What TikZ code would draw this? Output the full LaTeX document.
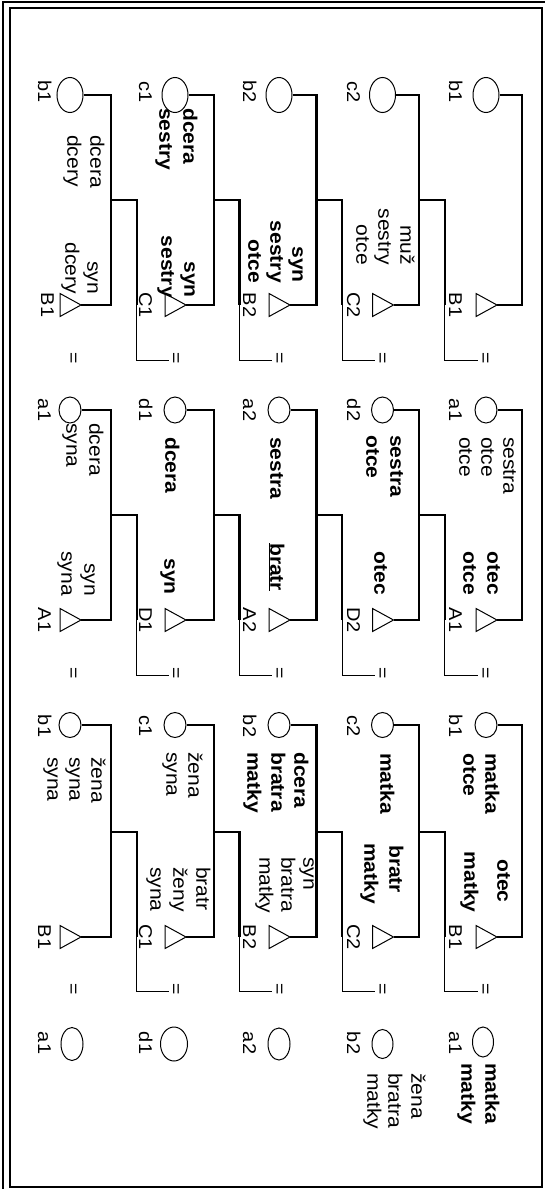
\documentclass[tikz,border=0pt]{standalone}
\usepackage{fontspec}
\setmainfont{Liberation Sans}[FakeStretch=1.08]
\usetikzlibrary{shapes.geometric,calc}
\begin{document}
\begin{tikzpicture}[x=1pt,y=-1pt,
  pers/.style={draw,line width=1pt,ellipse,inner sep=0pt},
  trishape/.style={draw,line width=1pt},
  couple/.style={line width=2.3pt},
  thinl/.style={line width=1pt},
  rel/.style={rotate=-90,inner sep=0pt,font=\fontsize{19.5}{22}\selectfont},
  relb/.style={rotate=-90,inner sep=0pt,font=\fontsize{19.5}{22}\selectfont\bfseries},
  lab/.style={rotate=-90,inner sep=0pt,anchor=base,font=\fontsize{18.5}{20}\selectfont},
  eqs/.style={rotate=-90,inner sep=0pt,font=\fontsize{18}{20}\selectfont},
]
\useasboundingbox (0,0) rectangle (545,1189);
% frame
\draw[line width=1.6pt] (10,8) rectangle (542,1187);
\draw[line width=2pt] (3,1189) -- (3,2) -- (545,2);

% people, couples, equal signs
\foreach \col/\cx/\kx/\ex in {1/70/111/72,2/175/213.7/174.5,3/279/316.4/278,4/382.5/419.1/381,5/486/521.8/484}{
  \foreach \blk/\cy/\ty/\jy/\ey/\ww/\hh in {1/95/305/200/358/26/35,2/410/620/515/673/22/26,3/725/937/832/989/22/25}{
    \node[pers,minimum width={\ww pt},minimum height={\hh pt}] (c\blk\col) at (\cx,\cy) {};
    \coordinate (t\blk\col) at (\cx+11,\ty);
    \draw[trishape] (t\blk\col) -- ++(-21,-11.5) -- ++(0,23) -- cycle;
    \coordinate (k\blk\col) at (\kx,\jy);
    \draw[couple] (c\blk\col.east) -| (k\blk\col) |- (t\blk\col);
    \node[eqs] (e\blk\col) at (\ex,\ey) {=};
  }
}
% descent lines
\foreach \col/\kx/\nx in {1/111/2,2/213.7/3,3/316.4/4,4/419.1/5}{
  \foreach \blk/\ty in {1/305,2/620,3/937}{
    \coordinate (d\blk\col) at (\kx+25.7,\ty);
    \draw[couple] (k\blk\col) -| (d\blk\col);
    \draw[thinl] (d\blk\col) |- ($(e\blk\nx.center)+(-6,2)$);
  }
}
% last row of circles
\foreach \col/\cx/\cy/\ww/\hh in {1/72/1044/22/33,2/174/1044/27/34,3/279/1044/22/32,4/382.5/1044/21/29,5/483/1042/21/30}{
  \node[pers,minimum width={\ww pt},minimum height={\hh pt}] (c4\col) at (\cx,\cy) {};
}

% letter labels
\foreach \col/\lx/\ly/\qa/\qb/\qc/\qd/\qe in {1/38/41/b1/B1/a1/A1/a1,2/139/139/c1/C1/d1/D1/d1,3/243/243/b2/B2/a2/A2/a2,4/347/347/c2/C2/d2/D2/b2,5/449/449/b1/B1/a1/A1/a1}{
  \node[lab] (la1\col) at (\lx,92) {\qa};
  \node[lab] (lb1\col) at (\ly,305) {\qb};
  \node[lab] (la2\col) at (\lx,410) {\qc};
  \node[lab] (lb2\col) at (\lx,620) {\qd};
  \node[lab] (la3\col) at (\lx,726) {\qa};
  \node[lab] (lb3\col) at (\lx,937) {\qb};
  \node[lab] (la4\col) at (\lx,1043) {\qe};
}

% relation labels, block 1
\node[rel,anchor=mid west] (r01) at (93,135) {dcera};
\node[rel,anchor=mid west] (r02) at (70,135) {dcery};
\node[rel,anchor=mid east] (r03) at (90,294) {syn};
\node[rel,anchor=mid east] (r04) at (68,294) {dcery};
\node[relb,anchor=mid west] (r05) at (186,108) {dcera};
\node[relb,anchor=mid west] (r06) at (162,108) {sestry};
\node[relb,anchor=mid east] (r07) at (187,298) {syn};
\node[relb,anchor=mid east] (r08) at (164,298) {sestry};
\node[relb,anchor=mid east] (r09) at (295,283) {syn};
\node[relb,anchor=mid east] (r10) at (273,283) {sestry};
\node[relb,anchor=mid east] (r11) at (251,283) {otce};
\node[rel,anchor=mid east] (r12) at (403,265) {muž};
\node[rel,anchor=mid east] (r13) at (381,265) {sestry};
\node[rel,anchor=mid east] (r14) at (359,265) {otce};
% block 2
\node[rel,anchor=mid west] (r15) at (92,423) {dcera};
\node[rel,anchor=mid west] (r16) at (69,423) {syna};
\node[rel,anchor=mid east] (r17) at (87,596) {syn};
\node[rel,anchor=mid east] (r18) at (64,596) {syna};
\node[relb,anchor=mid west] (r19) at (168,437) {dcera};
\node[relb,anchor=mid east] (r20) at (167,595) {syn};
\node[relb,anchor=mid west] (r21) at (273,437) {sestra};
\node[relb,anchor=mid west] (r22) at (273,543) {\underline{bratr}};
\node[relb,anchor=mid west] (r23) at (393,435) {sestra};
\node[relb,anchor=mid west] (r24) at (369,435) {otce};
\node[relb,anchor=mid east] (r25) at (377,595) {otec};
\node[rel,anchor=mid west] (r26) at (506,437) {sestra};
\node[rel,anchor=mid west] (r27) at (484,437) {otce};
\node[rel,anchor=mid west] (r28) at (462,437) {otce};
\node[relb,anchor=mid east] (r29) at (490,595) {otec};
\node[relb,anchor=mid east] (r30) at (466,595) {otce};
% block 3
\node[rel,anchor=mid west] (r31) at (94,757) {žena};
\node[rel,anchor=mid west] (r32) at (72,757) {syna};
\node[rel,anchor=mid west] (r33) at (50,757) {syna};
\node[rel,anchor=mid west] (r34) at (191,752) {žena};
\node[rel,anchor=mid west] (r35) at (169,752) {syna};
\node[rel,anchor=mid west] (r36) at (199,867) {bratr};
\node[rel,anchor=mid west] (r37) at (176,867) {ženy};
\node[rel,anchor=mid west] (r38) at (153,867) {syna};
\node[relb,anchor=mid west] (r39) at (297,752) {dcera};
\node[relb,anchor=mid west] (r40) at (274,752) {bratra};
\node[relb,anchor=mid west] (r41) at (250,752) {matky};
\node[rel,anchor=mid west] (r42) at (306,857) {syn};
\node[rel,anchor=mid west] (r43) at (284,857) {bratra};
\node[rel,anchor=mid west] (r44) at (262,857) {matky};
\node[relb,anchor=mid west] (r45) at (383,753) {matka};
\node[relb,anchor=mid west] (r46) at (392,845) {bratr};
\node[relb,anchor=mid west] (r47) at (367,843) {matky};
\node[relb,anchor=mid west] (r48) at (488,753) {matka};
\node[relb,anchor=mid west] (r49) at (466,753) {otce};
\node[relb,anchor=mid] (r50) at (500,881) {otec};
\node[relb,anchor=mid] (r51) at (467,882) {matky};
% block 4
\node[rel,anchor=mid west] (r52) at (414,1073) {žena};
\node[rel,anchor=mid west] (r53) at (391,1073) {bratra};
\node[rel,anchor=mid west] (r54) at (370,1073) {matky};
\node[relb,anchor=mid west] (r55) at (488,1063) {matka};
\node[relb,anchor=mid west] (r56) at (464,1063) {matky};
\end{tikzpicture}
\end{document}
